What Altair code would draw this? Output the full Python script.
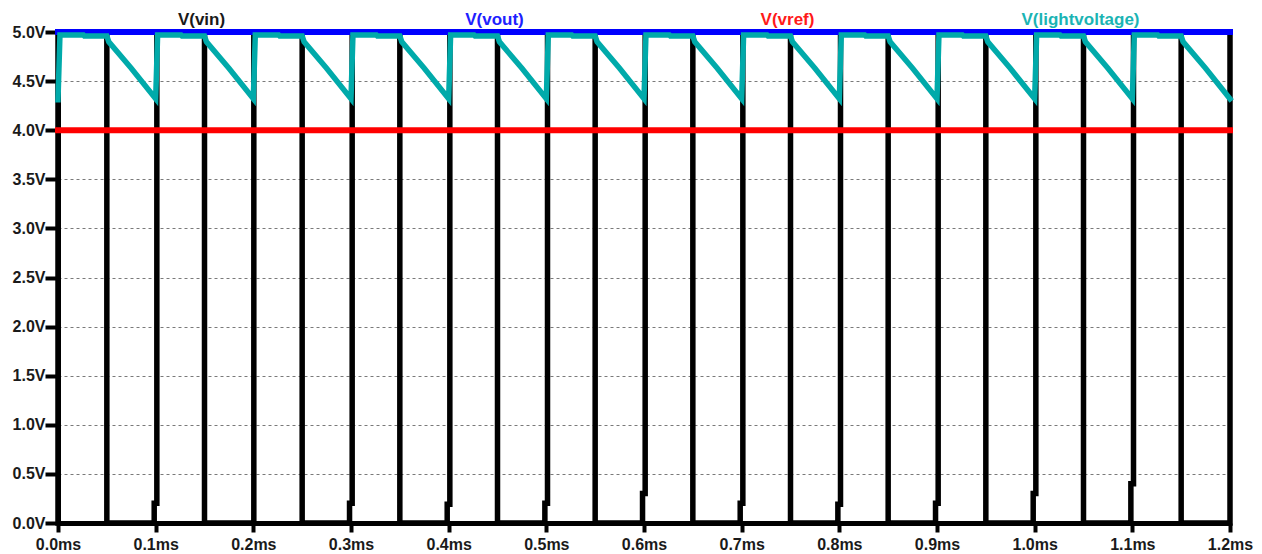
import altair as alt
import pandas as pd

# ---------------- data ----------------
# V(vin): square wave 0 V / 5 V, rising edges (lower jog, upper part) and falling edges, in ms
vin_rise_lower = [0.000, 0.0985, 0.1985, 0.2985, 0.3985, 0.4985, 0.5985, 0.6985, 0.7985, 0.8985, 0.9985, 1.0985, 1.200]
vin_rise_upper = [0.000, 0.1012, 0.2005, 0.3012, 0.4012, 0.5012, 0.6012, 0.7012, 0.8012, 0.9012, 1.0012, 1.1012, 1.200]
vin_rise_kink = [0.0, 0.20, 0.0, 0.20, 0.19, 0.20, 0.30, 0.20, 0.19, 0.20, 0.30, 0.40, 0.0]
vin_fall = [0.05, 0.15, 0.25, 0.35, 0.45, 0.55, 0.65, 0.75, 0.85, 0.95, 1.05, 1.15]
vin_low, vin_high = 0.0, 5.0

# V(vout) and V(vref): flat lines
vout_t = [0.0, 1.2]
vout_v = [5.0, 5.0]
vref_t = [0.0, 1.2]
vref_v = [4.0, 4.0]

# V(lightvoltage): one row per period (time in ms, volts)
lv_t = [
    0.000, 0.002, 0.026, 0.027, 0.050, 0.052, 0.075,
    0.100, 0.102, 0.126, 0.127, 0.150, 0.152, 0.175,
    0.200, 0.202, 0.226, 0.227, 0.250, 0.252, 0.275,
    0.300, 0.302, 0.326, 0.327, 0.350, 0.352, 0.375,
    0.400, 0.402, 0.426, 0.427, 0.450, 0.452, 0.475,
    0.500, 0.502, 0.526, 0.527, 0.550, 0.552, 0.575,
    0.600, 0.602, 0.626, 0.627, 0.650, 0.652, 0.675,
    0.700, 0.702, 0.726, 0.727, 0.750, 0.752, 0.775,
    0.800, 0.802, 0.826, 0.827, 0.850, 0.852, 0.875,
    0.900, 0.902, 0.926, 0.927, 0.950, 0.952, 0.975,
    1.000, 1.002, 1.026, 1.027, 1.050, 1.052, 1.075,
    1.100, 1.102, 1.126, 1.127, 1.150, 1.152, 1.175,
    1.200,
]
lv_v = [
    4.31, 4.97, 4.97, 4.96, 4.96, 4.90, 4.63,
    4.32, 4.97, 4.97, 4.96, 4.96, 4.90, 4.63,
    4.32, 4.97, 4.97, 4.96, 4.96, 4.90, 4.63,
    4.32, 4.97, 4.97, 4.96, 4.96, 4.90, 4.63,
    4.32, 4.97, 4.97, 4.96, 4.96, 4.90, 4.63,
    4.32, 4.97, 4.97, 4.96, 4.96, 4.90, 4.63,
    4.32, 4.97, 4.97, 4.96, 4.96, 4.90, 4.63,
    4.32, 4.97, 4.97, 4.96, 4.96, 4.90, 4.63,
    4.32, 4.97, 4.97, 4.96, 4.96, 4.90, 4.63,
    4.32, 4.97, 4.97, 4.96, 4.96, 4.90, 4.63,
    4.32, 4.97, 4.97, 4.96, 4.96, 4.90, 4.63,
    4.32, 4.97, 4.97, 4.96, 4.96, 4.90, 4.63,
    4.32,
]

x_ticks = [0.0, 0.1, 0.2, 0.3, 0.4, 0.5, 0.6, 0.7, 0.8, 0.9, 1.0, 1.1, 1.2]
y_ticks = [0.0, 0.5, 1.0, 1.5, 2.0, 2.5, 3.0, 3.5, 4.0, 4.5, 5.0]

trace_names = ["V(vin)", "V(vout)", "V(vref)", "V(lightvoltage)"]
trace_colors = ["#000000", "#0000ff", "#ff0000", "#00aaaa"]
label_colors = ["#1a1a1a", "#2020ff", "#ff1a1a", "#1ab4b4"]

# ---------------- build tables ----------------
vin_rows = []
for i in range(len(vin_rise_lower)):
    lo, hi, k = vin_rise_lower[i], vin_rise_upper[i], vin_rise_kink[i]
    vin_rows += [(lo, vin_low), (lo, k), (hi, k), (hi, vin_high)]
    if i < len(vin_fall):
        vin_rows += [(vin_fall[i], vin_high), (vin_fall[i], vin_low)]
df_vin = pd.DataFrame({"t": [r[0] for r in vin_rows], "v": [r[1] for r in vin_rows]})
df_vin["i"] = range(len(df_vin))

df_vout = pd.DataFrame({"t": vout_t, "v": vout_v, "i": range(len(vout_t))})
df_vref = pd.DataFrame({"t": vref_t, "v": vref_v, "i": range(len(vref_t))})
df_lv = pd.DataFrame({"t": lv_t, "v": lv_v, "i": range(len(lv_t))})

W, H = 1172, 491
FONT = "Liberation Sans"

x_axis = alt.Axis(
    values=x_ticks, labelExpr="format(datum.value, '.1f') + 'ms'", title=None,
    labelFont=FONT, labelFontWeight="bold", labelFontSize=16, labelColor="#1a1a1a",
    tickSize=9, tickWidth=4, tickColor="#000000", domainColor="#000000", domainWidth=5,
    labelPadding=4, grid=False, labelOverlap=False, labelFlush=False,
)
y_axis = alt.Axis(
    values=y_ticks, labelExpr="format(datum.value, '.1f') + 'V'", title=None,
    labelFont=FONT, labelFontWeight="bold", labelFontSize=16, labelColor="#1a1a1a",
    tickSize=13, tickWidth=4, tickColor="#000000", domainColor="#000000", domainWidth=5,
    labelPadding=0, grid=True, gridColor="#7a7a7a", gridDash=[3, 3], gridWidth=1,
    labelOverlap=False, labelFlush=False,
)
x_enc = alt.X("t:Q", scale=alt.Scale(domain=[0, 1.2], nice=False, zero=False), axis=x_axis)
y_enc = alt.Y("v:Q", scale=alt.Scale(domain=[0, 5], nice=False, zero=True), axis=y_axis)


def trace(df, color, width):
    return alt.Chart(df).mark_line(
        color=color, strokeWidth=width, strokeJoin="miter", strokeCap="square"
    ).encode(x=x_enc, y=y_enc, order="i:Q")


layers = [
    trace(df_vin, trace_colors[0], 5.5),
    trace(df_vout, trace_colors[1], 6),
    trace(df_vref, trace_colors[2], 6),
    trace(df_lv, trace_colors[3], 5.5),
]

# trace names across the top, evenly spaced
for k, (name, col) in enumerate(zip(trace_names, label_colors)):
    layers.append(
        alt.Chart(df_vout.head(1)).mark_text(
            text=name, font=FONT, fontSize=17, fontWeight="bold", color=col,
            align="center", baseline="alphabetic",
        ).encode(x=alt.value(W * (k + 0.5) / 4 - 3), y=alt.value(-7))
    )

chart = alt.layer(*layers).properties(
    width=W, height=H,
    padding={"left": 50, "top": 24, "right": 24, "bottom": 30},
    autosize=alt.AutoSizeParams(type="none"),
    background="#ffffff",
).configure_view(stroke=None)

chart.save("out.html", embed_options={"renderer": "svg", "actions": False})
